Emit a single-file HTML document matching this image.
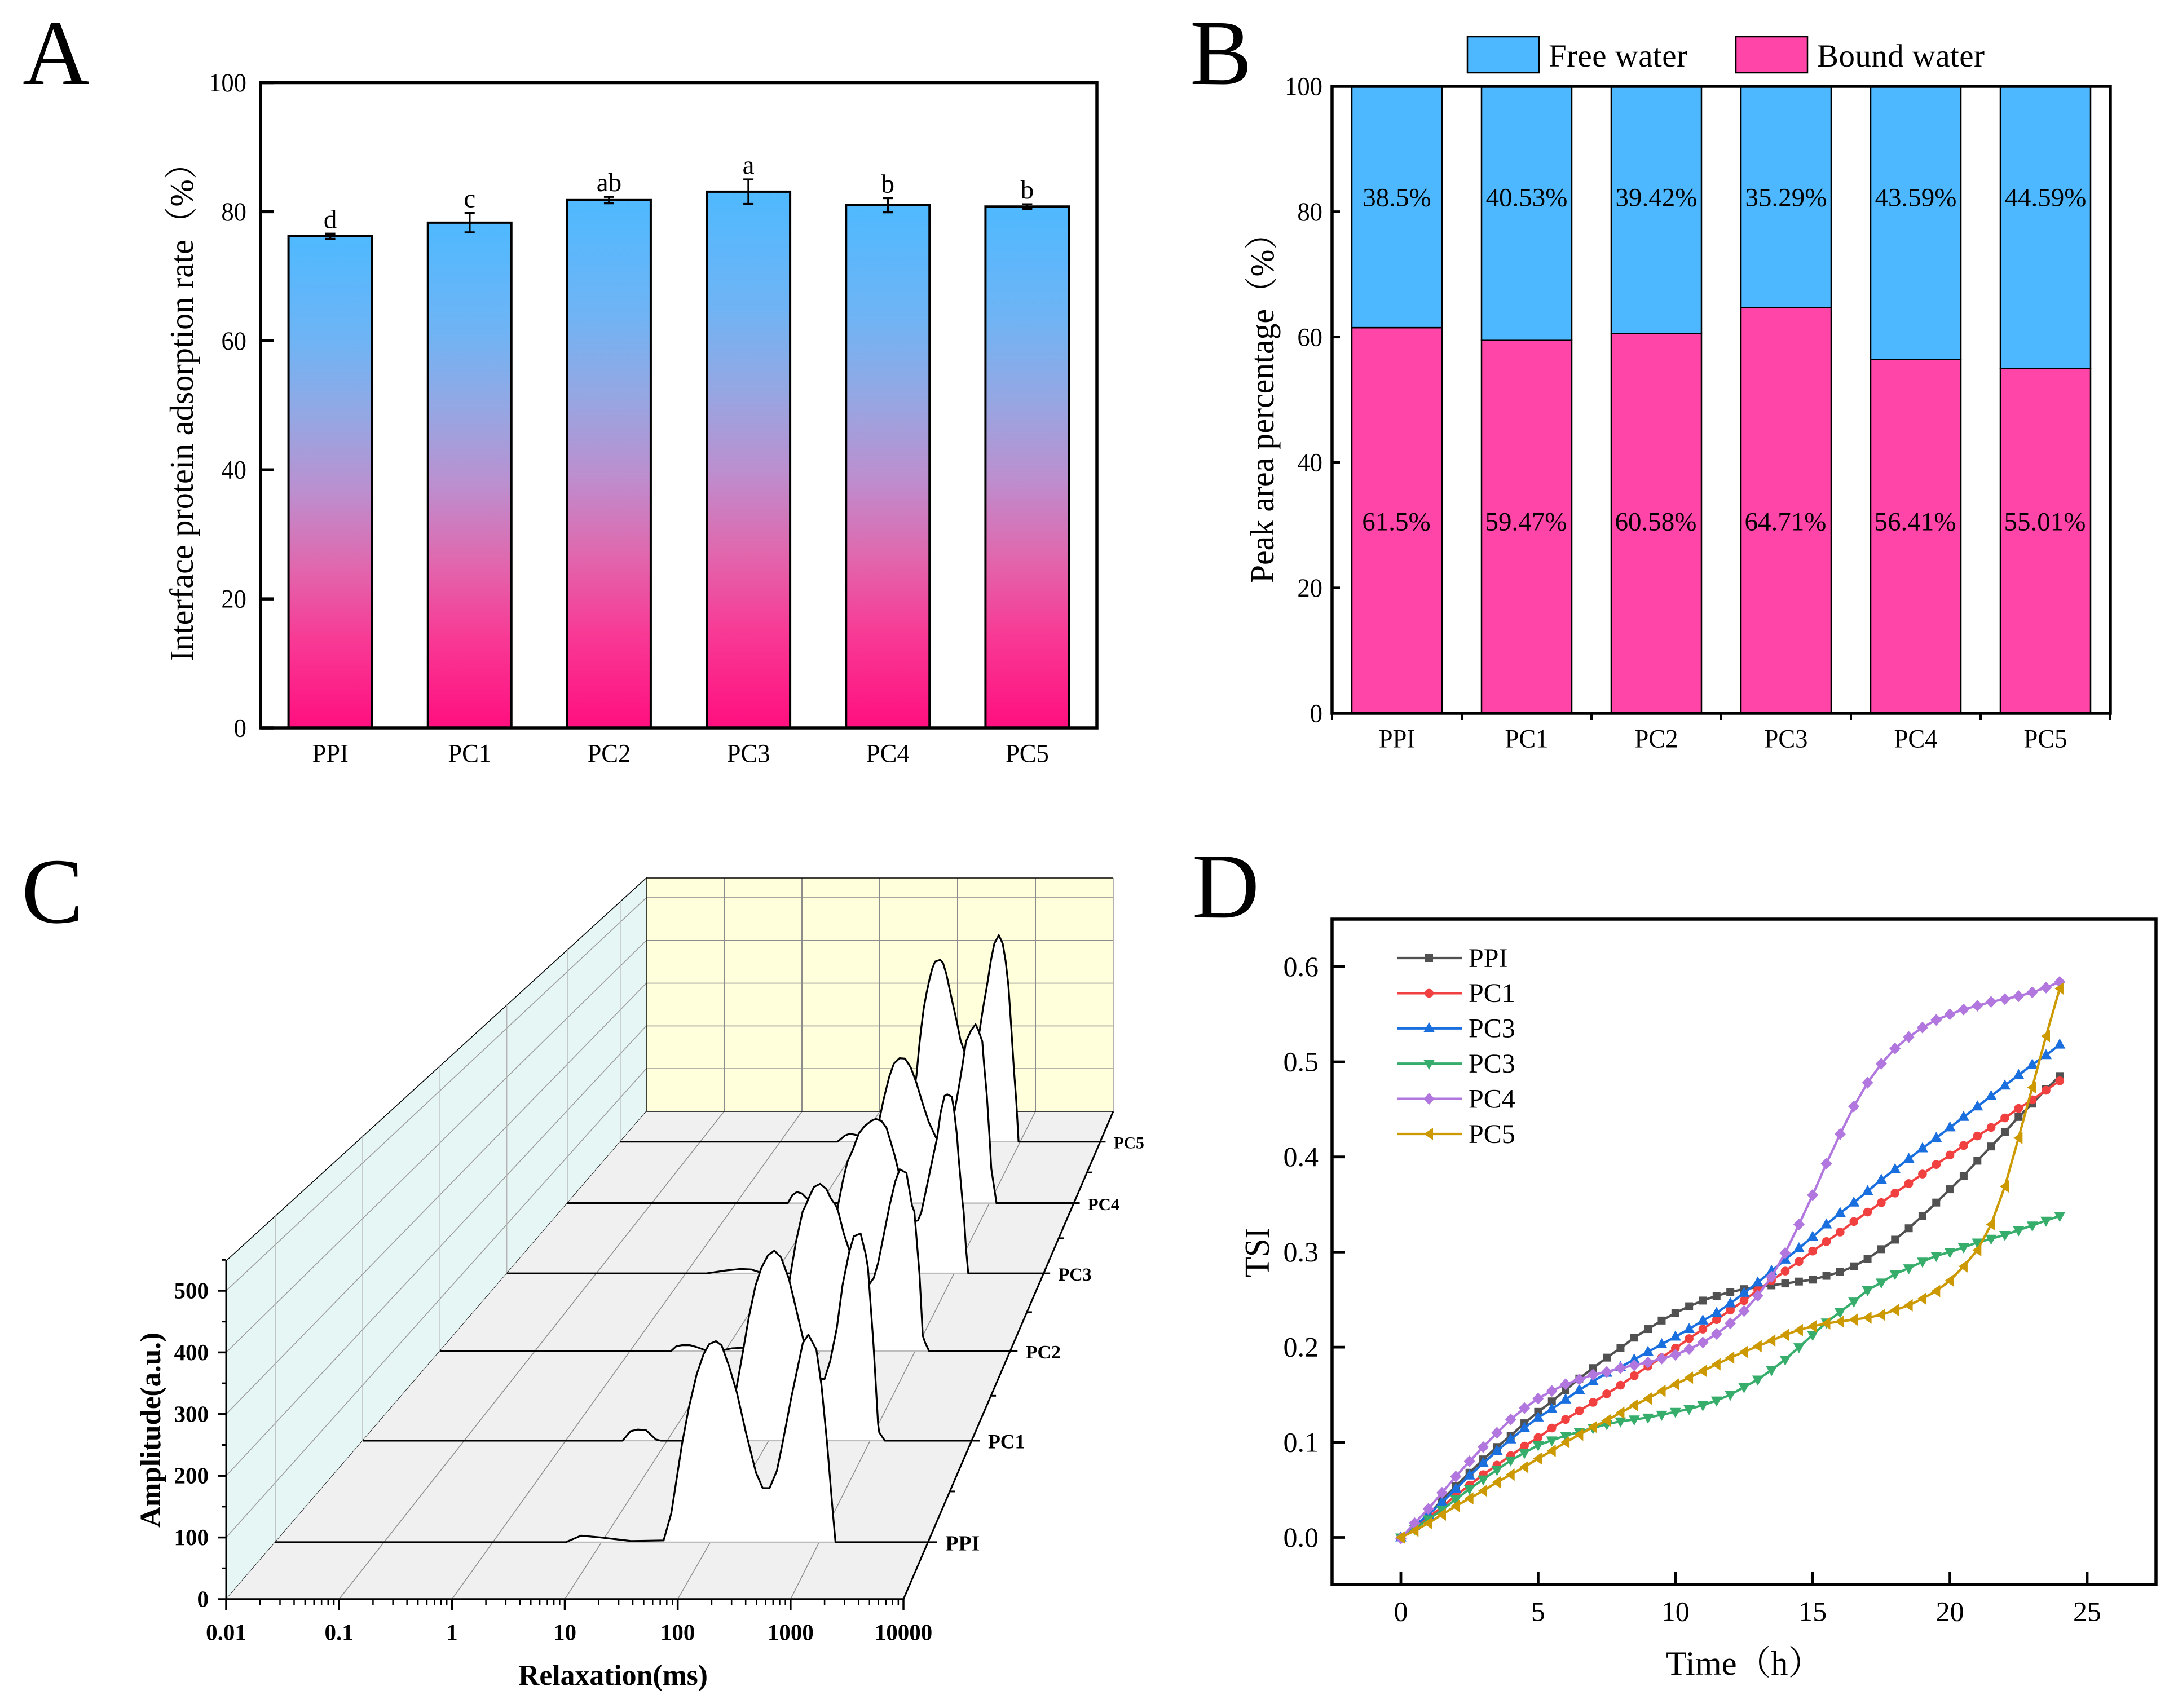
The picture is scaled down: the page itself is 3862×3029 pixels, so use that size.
<!DOCTYPE html>
<html lang="en">
<head>
<meta charset="utf-8">
<title>Protein interface charts</title>
<style>
html,body{margin:0;padding:0;background:#fff}
svg{display:block}
text{font-family:"Liberation Serif","Noto Serif CJK SC",serif;fill:#000}
</style>
</head>
<body>
<svg id="fig" xmlns="http://www.w3.org/2000/svg" width="3862" height="3029" viewBox="0 0 3862 3029">
<defs>
<linearGradient id="barGrad" x1="0" y1="0" x2="0" y2="1">
<stop offset="0" stop-color="#4FB9FF"/>
<stop offset="0.21" stop-color="#6EB4F5"/>
<stop offset="0.37" stop-color="#95A7E3"/>
<stop offset="0.52" stop-color="#BC8FCF"/>
<stop offset="0.67" stop-color="#E068AE"/>
<stop offset="0.82" stop-color="#F83A95"/>
<stop offset="1" stop-color="#FF0F7F"/>
</linearGradient>
</defs>
<rect width="3862" height="3029" fill="#fff"/>

<text x="40" y="149" font-size="165">A</text>
<text x="2110" y="149" font-size="165">B</text>
<text x="38" y="1636" font-size="165">C</text>
<text x="2114" y="1627" font-size="165">D</text>

<g id="panelA"></g>
<text x="342" y="1173" font-size="59" text-anchor="start" textLength="913" lengthAdjust="spacingAndGlyphs" transform="rotate(-90 342 1173)">Interface protein adsorption rate（%）</text>

<g id="panelB"></g>
<text x="2258" y="1034" font-size="59" text-anchor="start" textLength="649" lengthAdjust="spacingAndGlyphs" transform="rotate(-90 2258 1034)">Peak area percentage（%）</text>
<g>
<rect x="2602" y="65" width="127" height="64" fill="#4DB8FF" stroke="#000" stroke-width="2.5"/>
<text x="2746" y="118" font-size="57" textLength="246" lengthAdjust="spacing">Free water</text>
<rect x="3078" y="65" width="127" height="64" fill="#FF45A8" stroke="#000" stroke-width="2.5"/>
<text x="3222" y="118" font-size="57" textLength="297" lengthAdjust="spacing">Bound water</text>
</g>

<g id="panelC"></g>
<text x="284" y="2536" font-size="52" font-weight="bold" text-anchor="middle" textLength="346" lengthAdjust="spacingAndGlyphs" transform="rotate(-90 284 2536)">Amplitude(a.u.)</text>
<text x="1087" y="2988" font-size="52" font-weight="bold" text-anchor="middle" textLength="336" lengthAdjust="spacingAndGlyphs">Relaxation(ms)</text>

<g id="panelD"></g>
<text x="2250" y="2221" font-size="62" text-anchor="middle" textLength="88" lengthAdjust="spacingAndGlyphs" transform="rotate(-90 2250 2221)">TSI</text>
<text x="2954" y="2970" font-size="60" text-anchor="start" textLength="277" lengthAdjust="spacingAndGlyphs">Time（h）</text>
</svg>

<script>
/* ---------- Panel A data ---------- */
const aCategories = ['PPI','PC1','PC2','PC3','PC4','PC5'];
const aValues = [76.2,78.3,81.8,83.1,81.0,80.8];
const aErrors = [0.4,1.5,0.5,1.9,1.1,0.35];
const aLetters = ['d','c','ab','a','b','b'];
const aYTicks = [0,20,40,60,80,100];

/* ---------- Panel B data ---------- */
const bCategories = ['PPI','PC1','PC2','PC3','PC4','PC5'];
const bBound = [61.5,59.47,60.58,64.71,56.41,55.01];
const bFree = [38.5,40.53,39.42,35.29,43.59,44.99];
const bBoundLabels = ['61.5%','59.47%','60.58%','64.71%','56.41%','55.01%'];
const bFreeLabels = ['38.5%','40.53%','39.42%','35.29%','43.59%','44.59%'];
const bYTicks = [0,20,40,60,80,100];

/* ---------- Panel C data (log10 of relaxation in ms, amplitude in a.u.) ---------- */
const cSamples = ['PPI','PC1','PC2','PC3','PC4','PC5'];
const cXTicks = ['0.01','0.1','1','10','100','1000','10000'];
const cYTicks = [0,100,200,300,400,500];
const ppiLogT = [-2,.67,.81,.99,1.27,1.57,1.641,1.74,1.802,1.874,1.937,1.989,2.051,2.103,2.17,2.243,2.326,2.419,2.481,2.544,2.611,2.663,2.746,2.85,2.901,2.974,3.021,3.073,3.124,3.15,4];
const ppiAmp  = [0,0,11,8,2,3,49,166,226,282,316,333,338,331,297,252,185,117,91,91,120,166,245,335,349,324,264,166,53,0,0];
const pc1LogT = [-2,.56,.64,.71,.79,.89,.94,1.528,1.606,1.683,1.75,1.806,1.872,1.928,1.994,2.056,2.122,2.2,2.267,2.344,2.428,2.517,2.55,2.606,2.672,2.728,2.794,2.839,2.906,2.956,2.978,3.033,3.078,3.089,3.144,4];
const pc1Amp  = [0,0,17,20,19,2,0,0,48,95,164,224,280,311,334,342,330,291,240,180,139,111,111,143,203,280,340,368,373,336,312,172,30,15,0,0];
const pc2LogT = [-2,.433,.487,.546,.629,.688,.783,.991,1.074,1.169,1.323,1.561,1.685,1.745,1.816,1.846,1.887,1.935,2,2.065,2.113,2.166,2.19,2.249,2.309,2.415,2.516,2.564,2.611,2.718,2.73,2.789,2.837,2.908,2.967,2.991,3.045,3.08,3.104,3.145,4];
const pc2Amp  = [0,0,9,11,11,8,2,2,5,6,4,0,144,209,268,279,297,315,321,311,293,279,268,225,192,140,128,140,170,268,279,325,349,342,279,268,148,29,16,0,0];
const pc3LogT = [-2,.232,.308,.453,.617,.73,.831,.97,1.569,1.651,1.707,1.758,1.808,1.865,1.934,1.998,2.073,2.124,2.187,2.243,2.294,2.338,2.376,2.464,2.552,2.596,2.634,2.811,2.849,2.893,2.924,2.975,3,3.032,3.05,3.095,3.107,3.132,3.158,4];
const pc3Amp  = [0,0,2,6,9,8,2,0,0,78,143,190,228,251,285,300,311,315,311,297,266,239,210,140,106,108,125,278,328,362,365,360,331,281,236,144,125,52,0,0];
const pc4LogT = [-2,.612,.665,.719,.779,.832,.93,1.6,1.701,1.747,1.814,1.868,1.935,2.001,2.068,2.135,2.215,2.282,2.369,2.469,2.589,2.636,2.683,2.723,2.783,2.836,2.87,2.916,2.937,2.97,3.003,3.023,3.084,4];
const pc4Amp  = [0,0,17,24,21,11,0,0,184,224,273,301,313,312,293,260,212,175,141,110,200,248,300,349,373,386,373,349,300,232,139,74,0,0];
const pc5LogT = [-2,.715,.771,.807,.87,.983,1.068,1.561,1.702,1.738,1.759,1.794,1.829,1.865,1.9,1.935,1.999,2.034,2.076,2.147,2.21,2.252,2.316,2.386,2.443,2.492,2.535,2.584,2.633,2.676,2.732,2.781,2.817,2.852,2.887,2.922,2.951,2.979,4];
const pc5Amp  = [0,0,8,14,18,14,0,0,150,220,253,304,339,369,394,410,414,407,382,322,271,232,197,185,225,252,304,355,412,451,470,451,412,355,261,162,91,0,0];
const cLogT = [ppiLogT,pc1LogT,pc2LogT,pc3LogT,pc4LogT,pc5LogT];
const cAmp = [ppiAmp,pc1Amp,pc2Amp,pc3Amp,pc4Amp,pc5Amp];

/* ---------- Panel D data ---------- */
const dTime = [0,0.5,1,1.5,2,2.5,3,3.5,4,4.5,5,5.5,6,6.5,7,7.5,8,8.5,9,9.5,10,10.5,11,11.5,12,12.5,13,13.5,14,14.5,15,15.5,16,16.5,17,17.5,18,18.5,19,19.5,20,20.5,21,21.5,22,22.5,23,23.5,24];
const dPPI = [0,.012,.024,.039,.054,.068,.082,.095,.107,.120,.132,.143,.155,.167,.178,.189,.199,.210,.219,.228,.236,.243,.249,.254,.258,.261,.263,.265,.267,.269,.271,.275,.279,.285,.293,.303,.313,.325,.338,.352,.366,.380,.396,.411,.426,.442,.456,.471,.485];
const dPC1 = [0,.010,.021,.032,.044,.055,.066,.076,.086,.096,.105,.115,.124,.133,.142,.151,.160,.170,.180,.189,.199,.209,.219,.229,.239,.249,.260,.270,.280,.290,.301,.311,.321,.332,.342,.352,.362,.372,.382,.392,.402,.412,.422,.431,.441,.451,.460,.470,.480];
const dPC3Blue = [0,.012,.024,.037,.051,.065,.078,.091,.103,.115,.126,.135,.145,.155,.164,.173,.179,.187,.195,.203,.211,.219,.228,.236,.246,.257,.268,.280,.292,.304,.316,.329,.341,.352,.364,.376,.387,.398,.409,.420,.431,.442,.453,.464,.475,.486,.497,.507,.518];
const dPC3Green = [0,.009,.019,.029,.040,.051,.061,.071,.081,.089,.097,.102,.107,.111,.115,.119,.122,.124,.126,.129,.132,.135,.139,.144,.150,.158,.166,.176,.187,.200,.213,.226,.237,.248,.260,.268,.277,.283,.290,.296,.300,.305,.310,.314,.318,.323,.328,.333,.338];
const dPC4 = [-.001,.015,.030,.047,.064,.080,.095,.110,.124,.136,.146,.154,.161,.166,.171,.174,.178,.181,.184,.188,.192,.198,.205,.214,.225,.238,.254,.274,.299,.329,.360,.393,.424,.453,.478,.498,.514,.526,.536,.544,.550,.555,.559,.563,.566,.569,.573,.578,.584];
const dPC5 = [0,.007,.015,.024,.033,.041,.049,.058,.066,.074,.083,.091,.100,.108,.116,.123,.131,.139,.146,.154,.161,.168,.175,.182,.189,.195,.201,.207,.213,.218,.222,.225,.227,.229,.231,.234,.239,.244,.251,.259,.270,.285,.302,.329,.369,.420,.473,.527,.577];
const dSeriesNames = ['PPI','PC1','PC3','PC3','PC4','PC5'];
const dSeriesValues = [dPPI,dPC1,dPC3Blue,dPC3Green,dPC4,dPC5];
const dSeriesColors = ['#515151','#F14040','#1A6FDF','#37AD6B','#B177DE','#CC9900'];
const dSeriesMarkers = ['square','circle','up','down','diamond','left'];
const dXTicks = [0,5,10,15,20,25];
const dYTicks = [0,0.1,0.2,0.3,0.4,0.5,0.6];

/* ---------- helpers ---------- */
const NS = 'http://www.w3.org/2000/svg';
function mk(parent, tag, attrs, txt) {
  const e = document.createElementNS(NS, tag);
  for (const k in attrs) e.setAttribute(k, attrs[k]);
  if (txt !== undefined) e.textContent = txt;
  parent.appendChild(e);
  return e;
}
function label(parent, x, y, str, size, anchor, weight) {
  return mk(parent, 'text', {x: x, y: y + size * 0.33, 'font-size': size, 'text-anchor': anchor || 'middle', 'font-weight': weight || 'normal'}, str);
}
function narrowLabel(parent, x, y, str, size, anchor) {
  return mk(parent, 'text', {x: 0, y: 0, transform: `translate(${x} ${y + size * 0.33}) scale(0.95 1)`, 'font-size': size, 'text-anchor': anchor || 'middle'}, str);
}
function seg(parent, x1, y1, x2, y2, color, w) {
  return mk(parent, 'line', {x1: x1, y1: y1, x2: x2, y2: y2, stroke: color, 'stroke-width': w});
}

/* ---------- Panel A ---------- */
(function () {
  const g = document.getElementById('panelA');
  const L = 462, R = 1945, T = 146.5, B = 1291;
  const x = i => L + (i + 0.5) * (R - L) / aCategories.length;
  const y = v => B - (B - T) * v / 100;
  const bw = 148;
  aCategories.forEach((c, i) => {
    const bar = mk(g, 'rect', {x: x(i) - bw / 2, y: y(aValues[i]), width: bw, height: B - y(aValues[i]), fill: 'url(#barGrad)', stroke: '#000', 'stroke-width': 4});
    
    
    const top = y(aValues[i] + aErrors[i]), bot = y(aValues[i] - aErrors[i]);
    const eb = mk(g, 'path', {d: `M${x(i) - 9} ${top}H${x(i) + 9}M${x(i)} ${top}V${bot}M${x(i) - 9} ${bot}H${x(i) + 9}`, fill: 'none', stroke: '#000', 'stroke-width': 3.5});
    
    
    const sig = mk(g, 'text', {x: x(i), y: top - 10, 'font-size': 47, 'text-anchor': 'middle'}, aLetters[i]);
    
    
    const xl = narrowLabel(g, x(i), 1336, c, 47);
    
    
  });
  aYTicks.forEach(v => {
    const t = seg(g, L, y(v), L + 23, y(v), '#000', 5.5);
    
    
    const tl = narrowLabel(g, 437, y(v), String(v), 47, 'end');
    
    
  });
  const f = mk(g, 'rect', {x: L, y: T, width: R - L, height: B - T, fill: 'none', stroke: '#000', 'stroke-width': 5.5});
  
  
})();

/* ---------- Panel B ---------- */
(function () {
  const g = document.getElementById('panelB');
  const L = 2362, R = 3742, T = 153, B = 1265;
  const step = (R - L) / bCategories.length;
  const x = i => L + (i + 0.5) * step;
  const y = v => B - (B - T) * v / 100;
  const bw = 160;
  bCategories.forEach((c, i) => {
    const bar1 = mk(g, 'rect', {x: x(i) - bw / 2, y: y(bBound[i]), width: bw, height: B - y(bBound[i]), fill: '#FF45A8', stroke: '#000', 'stroke-width': 2.5});
    
    
    const bar2 = mk(g, 'rect', {x: x(i) - bw / 2, y: y(bBound[i] + bFree[i]), width: bw, height: y(bBound[i]) - y(bBound[i] + bFree[i]), fill: '#4DB8FF', stroke: '#000', 'stroke-width': 2.5});
    
    
    const l1 = label(g, x(i) - 1, 925, bBoundLabels[i], 47);
    
    
    const l2 = label(g, x(i), 350, bFreeLabels[i], 47);
    
    
    const xl = narrowLabel(g, x(i), 1310, c, 47);
    
    
  });
  for (let i = 0; i <= bCategories.length; i++) {
    const t = seg(g, L + i * step, B, L + i * step, B + 11, '#000', 4);
    
    
  }
  bYTicks.forEach(v => {
    const t = seg(g, L, y(v), L + 14, y(v), '#000', 4.5);
    
    
    const tl = narrowLabel(g, 2345, y(v), String(v), 47, 'end');
    
    
  });
  const f = mk(g, 'rect', {x: L, y: T, width: R - L, height: B - T, fill: 'none', stroke: '#000', 'stroke-width': 5.5});
  
  
})();

/* ---------- Panel C ---------- */
(function () {
  const g = document.getElementById('panelC');
  const depthAxis = i => [0.1168, 0.325, 0.509, 0.668, 0.812, 0.938][i];
  const leftX = f => 401 + 745 * f;
  const rightX = f => 1602 + 372 * f;
  const baseY = f => 2836 - 865 * f;
  const xAt = (logT, f) => leftX(f) + (logT + 2) * (rightX(f) - leftX(f)) / 6;
  const yAt = (amp, f) => baseY(f) - amp * (1.094 - 0.336 * f);

  const wall = mk(g, 'polygon', {points: '1146,1557 401,2236 401,2836 1146,1971', fill: '#E6F6F5', stroke: '#000', 'stroke-width': 1.5});
  
  
  const back = mk(g, 'rect', {x: 1146, y: 1557, width: 828, height: 414, fill: '#FFFFDC'});
  
  
  const floor = mk(g, 'polygon', {points: '401,2836 1146,1971 1974,1971 1602,2836', fill: '#F0F0F0'});
  
  

  for (let k = 1; k <= 5; k++) {
    const y0 = yAt(k * 100, 0), y1 = yAt(k * 100, 1);
    const a = seg(g, leftX(0), y0, leftX(1), y1, '#9a9a9a', 1.5);
    
    
    const b = seg(g, leftX(1), y1, rightX(1), y1, '#8c8c8c', 1.6);
    
    
  }
  for (let d = 1; d <= 5; d++) {
    const v = seg(g, xAt(d - 2, 1), 1557, xAt(d - 2, 1), 1971, '#8c8c8c', 2);
    
    
    const w = seg(g, xAt(d - 2, 0), 2836, xAt(d - 2, 1), 1971, '#8c8c8c', 1.5);
    
    
  }
  cSamples.forEach((s, i) => {
    const f = depthAxis(i);
    const v = seg(g, leftX(f), baseY(f), leftX(f), yAt(550, f), '#b4b4b4', 1.5);
    
    
  });
  const edges = mk(g, 'path', {d: 'M1146 1557H1974M1146 1557V1971H1974', fill: 'none', stroke: '#000', 'stroke-width': 1.5});
  
  
  const rEdge = mk(g, 'line', {x1: 1974, y1: 1557, x2: 1974, y2: 1971, stroke: '#999', 'stroke-width': 1.5});
  
  

  for (let i = cSamples.length - 1; i >= 0; i--) {
    const f = depthAxis(i);
    const pts = cLogT[i].map((t, j) => xAt(t, f).toFixed(1) + ',' + yAt(cAmp[i][j], f).toFixed(1));
    const fill = mk(g, 'polygon', {points: pts.join(' '), fill: '#fff'});
    
    
    const base = seg(g, leftX(f), baseY(f), rightX(f), baseY(f), '#bdbdbd', 2.5);
    
    
    const line = mk(g, 'polyline', {points: pts.join(' '), fill: 'none', stroke: '#000', 'stroke-width': 3.2, 'stroke-linejoin': 'round'});
    
    
  }
  const rAxis = seg(g, 1602, 2836, 1974, 1971, '#000', 3);
  
  
  cSamples.forEach((s, i) => {
    const f = depthAxis(i);
    const tail = seg(g, rightX(f), baseY(f), rightX(f) + 17 - 8 * f, baseY(f), '#000', 3.2);
    
    
    const lb = label(g, rightX(f) + 32 - 9 * f, baseY(f) + 2, s, 39 - 10 * f, 'start', 'bold');
    
    
    if (i < cSamples.length - 1) {
      const mf = (f + depthAxis(i + 1)) / 2;
      const m = seg(g, rightX(mf), baseY(mf), rightX(mf) + 9, baseY(mf), '#000', 3);
      
      
    }
  });

  const yAxis = seg(g, 401, 2838, 401, 2236, '#000', 3);
  
  
  cYTicks.forEach(v => {
    const t = seg(g, 386, yAt(v, 0), 401, yAt(v, 0), '#000', 3.5);
    
    
    const m = seg(g, 393, yAt(v + 50, 0), 401, yAt(v + 50, 0), '#000', 3);
    
    
    const tl = label(g, 370, yAt(v, 0), String(v), 41, 'end', 'bold');
    
    
  });
  const xAxis = seg(g, 401, 2836, 1602, 2836, '#000', 3.5);
  
  
  cXTicks.forEach((lab, d) => {
    const px = xAt(d - 2, 0);
    const t = seg(g, px, 2836, px, 2855, '#000', 3.5);
    
    
    const tl = label(g, px, 2895, lab, 41, 'middle', 'bold');
    
    
    if (d < cXTicks.length - 1) {
      for (let m = 2; m <= 9; m++) {
        const mx = xAt(d - 2 + Math.log10(m), 0);
        const mt = seg(g, mx, 2836, mx, 2847, '#000', 2.5);
        
        
      }
    }
  });
})();

/* ---------- Panel D ---------- */
(function () {
  const g = document.getElementById('panelD');
  const L = 2362, R = 3823, T = 1630, B = 2810;
  const x = t => 2484 + 48.68 * t;
  const y = v => 2726.5 - 1687 * v;
  function marker(parent, kind, cx, cy, color) {
    if (kind === 'square') return mk(parent, 'rect', {x: cx - 7, y: cy - 7, width: 14, height: 14, fill: color});
    if (kind === 'circle') return mk(parent, 'circle', {cx: cx, cy: cy, r: 7.8, fill: color});
    let p;
    if (kind === 'up') p = [[cx, cy - 11], [cx + 10, cy + 7], [cx - 10, cy + 7]];
    if (kind === 'down') p = [[cx, cy + 11], [cx + 10, cy - 7], [cx - 10, cy - 7]];
    if (kind === 'diamond') p = [[cx, cy - 10.5], [cx + 10, cy], [cx, cy + 10.5], [cx - 10, cy]];
    if (kind === 'left') p = [[cx - 9, cy], [cx + 7, cy - 11], [cx + 7, cy + 11]];
    return mk(parent, 'polygon', {points: p.map(q => q[0].toFixed(1) + ',' + q[1].toFixed(1)).join(' '), fill: color});
  }
  dSeriesValues.forEach((vals, s) => {
    const grp = mk(g, 'g', {});
    
    
    const line = mk(grp, 'polyline', {points: vals.map((v, i) => x(dTime[i]).toFixed(1) + ',' + y(v).toFixed(1)).join(' '), fill: 'none', stroke: dSeriesColors[s], 'stroke-width': 4.2, 'stroke-linejoin': 'round'});
    
    
    vals.forEach((v, i) => {
      const m = marker(grp, dSeriesMarkers[s], x(dTime[i]), y(v), dSeriesColors[s]);
      
      
    });
    const ly = 1699 + s * 62.4;
    const ll = seg(g, 2477, ly, 2592, ly, dSeriesColors[s], 4.2);
    
    
    const lm = marker(g, dSeriesMarkers[s], 2534, ly, dSeriesColors[s]);
    
    
    const lt = label(g, 2604, ly, dSeriesNames[s], 48, 'start');
    
    
  });
  const f = mk(g, 'rect', {x: L, y: T, width: R - L, height: B - T, fill: 'none', stroke: '#000', 'stroke-width': 5.5});
  
  
  dXTicks.forEach(v => {
    const t = seg(g, x(v), B, x(v), B - 23, '#000', 4.8);
    
    
    const tl = label(g, x(v), 2858, String(v), 50);
    
    
  });
  dYTicks.forEach(v => {
    const t = seg(g, L, y(v), L + 23, y(v), '#000', 4.8);
    
    
    const tl = label(g, 2338, y(v), v.toFixed(1), 50, 'end');
    
    
  });
})();
</script>
</body>
</html>
